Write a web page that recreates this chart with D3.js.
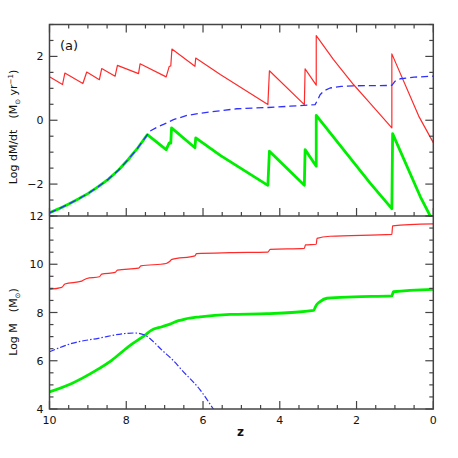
<!DOCTYPE html>
<html>
<head>
<meta charset="utf-8">
<script src="https://cdn.jsdelivr.net/npm/d3@7"></script>
<style>
  body { margin: 0; background: #fff; }
  text { font-family: "DejaVu Sans", sans-serif; fill: #111; }
</style>
</head>
<body>
<svg id="chart" width="458" height="458"></svg>
<script>
// top panel: log dM/dt, [z, value]
const redTop = [[10,1.36],[9.66,1.12],[9.6,1.48],[9.13,1.15],[9.03,1.51],[8.70,1.27],[8.64,1.62],
  [8.29,1.38],[8.23,1.72],[7.68,1.46],[7.64,1.77],[6.96,1.36],[6.88,1.69],[6.84,1.70],[6.81,2.23],
  [6.21,1.69],[6.19,1.95],[5.55,1.43],[4.31,0.49],[4.27,1.55],[3.36,0.49],[3.34,1.61],[3.05,1.10],
  [3.05,2.65],[2.60,1.90],[2.08,1.12],[1.69,0.59],[1.08,-0.24],[1.08,2.08],[0.38,0.13],[0,-0.70]];
const greenTop = [[10,-2.90],[9.75,-2.77],[9.51,-2.63],[9.25,-2.47],[8.99,-2.29],[8.73,-2.08],
  [8.47,-1.85],[8.2,-1.56],[7.95,-1.23],[7.72,-0.90],[7.51,-0.55],
  [7.45,-0.45],[6.96,-0.92],[6.88,-0.71],[6.84,-0.72],[6.82,-0.24],[6.21,-0.86],[6.19,-0.55],
  [5.55,-1.10],[4.31,-2.04],[4.27,-0.97],[3.36,-2.04],[3.34,-0.92],[3.05,-1.44],[3.05,0.15],
  [1.64,-1.98],[1.08,-2.77],[1.06,-0.42],[0.34,-2.39],[0.08,-3.0]];
const blueTop = [[10,-2.90],[9.75,-2.77],[9.51,-2.63],[9.25,-2.47],[8.99,-2.29],[8.73,-2.08],
  [8.47,-1.85],[8.2,-1.56],[7.95,-1.23],[7.72,-0.90],[7.51,-0.55],
  [7.38,-0.34],[7.2,-0.22],[7.03,-0.13],[6.77,0.02],[6.42,0.15],[5.90,0.25],[5.12,0.36],[4.30,0.40],
  [3.73,0.44],[3.08,0.49],[3.02,0.62],[2.95,0.80],[2.85,0.92],[2.69,1.01],[2.40,1.06],[2.08,1.08],
  [1.08,1.09],[1.00,1.22],[0.86,1.30],[0.5,1.35],[0,1.38]];

// bottom panel: log M, [z, value]
const redBot = [[10,8.96],[9.68,9.04],[9.60,9.18],[9.16,9.30],[9.03,9.41],[8.70,9.48],[8.64,9.59],
  [8.29,9.66],[8.23,9.76],[7.68,9.84],[7.62,9.93],[6.96,10.03],[6.88,10.10],[6.81,10.20],
  [6.21,10.35],[6.17,10.44],[5.29,10.48],[4.31,10.50],[4.25,10.62],[3.36,10.66],[3.33,10.80],
  [3.05,10.83],[3.03,11.07],[2.69,11.16],[1.08,11.24],[1.06,11.59],[0,11.67]];
const greenBot = [[10,4.71],[9.42,5.06],[8.81,5.58],[8.38,6.02],[7.95,6.58],[7.51,7.06],[7.34,7.27],
  [7.07,7.41],[6.86,7.52],[6.64,7.66],[6.47,7.73],[6.08,7.82],[5.29,7.92],[4.34,7.95],[3.12,8.09],
  [3.05,8.30],[2.95,8.45],[2.77,8.59],[2.08,8.65],[1.08,8.69],[1.04,8.86],[0,8.96]];
const blueBot = [[10,6.37],[9.42,6.72],[8.73,6.93],[8.03,7.13],[7.77,7.15],[7.51,7.06],[7.3,6.80],
  [7.07,6.44],[6.8,6.05],[6.55,5.61],[6.08,4.80],[5.73,4.00],[5.6,3.7]];

const topTicks = [-2, 0, 2];
const botTicks = [4, 6, 8, 10, 12];
const zTicks = [10, 8, 6, 4, 2, 0];

const L = 49.5, R = 433.3, T = 24.5, M = 216, B = 409;
const svg = d3.select("#chart");

const x = d3.scaleLinear().domain([10, 0]).range([L, R]);
const yTop = d3.scaleLinear().domain([-3, 3]).range([M, T]);
const yBot = d3.scaleLinear().domain([4, 12]).range([B, M]);

const defs = svg.append("defs");
defs.append("clipPath").attr("id", "clipTop").append("rect")
  .attr("x", L).attr("y", T).attr("width", R - L).attr("height", M - T);
defs.append("clipPath").attr("id", "clipBot").append("rect")
  .attr("x", L).attr("y", M).attr("width", R - L).attr("height", B - M);

function drawLine(data, y, clip, color, width, dash, curve) {
  const line = d3.line().x(d => x(d[0])).y(d => y(d[1])).curve(curve || d3.curveLinear);
  svg.append("path")
    .datum(data)
    .attr("clip-path", `url(#${clip})`)
    .attr("fill", "none")
    .attr("stroke", color)
    .attr("stroke-width", width)
    .attr("stroke-dasharray", dash)
    .attr("stroke-linejoin", "round")
    .attr("d", line);
}

drawLine(greenTop, yTop, "clipTop", "#00ee00", 2.8, null);
drawLine(redTop, yTop, "clipTop", "#ff2a2a", 1.2, null);
drawLine(blueTop, yTop, "clipTop", "#3030ff", 1.3, "7,4");

drawLine(redBot, yBot, "clipBot", "#ff2a2a", 1.2, null, d3.curveMonotoneX);
drawLine(greenBot, yBot, "clipBot", "#00ee00", 2.8, null, d3.curveMonotoneX);
drawLine(blueBot, yBot, "clipBot", "#3030ff", 1.2, "6,2,1.5,2", d3.curveMonotoneX);

// frames and inward ticks
const axisColor = "#444";
svg.append("rect").attr("x", L).attr("y", T).attr("width", R - L).attr("height", B - T)
  .attr("fill", "none").attr("stroke", axisColor).attr("stroke-width", 1.5);
svg.append("line").attr("x1", L).attr("x2", R).attr("y1", M).attr("y2", M)
  .attr("stroke", axisColor).attr("stroke-width", 1.5);

const ticks = svg.append("g").attr("stroke", axisColor).attr("stroke-width", 1.2);
const major = 8, minor = 4;

d3.range(0, 10.01, 0.5).forEach(z => {
  const len = z % 2 === 0 ? major : minor;
  const px = x(z);
  [[T, len], [M, -len], [B, -len]].forEach(([y0, l]) => {
    ticks.append("line").attr("x1", px).attr("x2", px).attr("y1", y0).attr("y2", y0 + l);
  });
});
d3.range(-3, 3.01, 0.5).forEach(v => {
  const len = v % 2 === 0 ? major : minor;
  const py = yTop(v);
  ticks.append("line").attr("x1", L).attr("x2", L + len).attr("y1", py).attr("y2", py);
  ticks.append("line").attr("x1", R).attr("x2", R - len).attr("y1", py).attr("y2", py);
});
d3.range(4, 12.01, 0.5).forEach(v => {
  const len = v % 2 === 0 ? major : minor;
  const py = yBot(v);
  ticks.append("line").attr("x1", L).attr("x2", L + len).attr("y1", py).attr("y2", py);
  ticks.append("line").attr("x1", R).attr("x2", R - len).attr("y1", py).attr("y2", py);
});

// tick labels
const fmt = v => v < 0 ? "\u2212" + Math.abs(v) : String(v);
topTicks.forEach(v => {
  svg.append("text").attr("x", L - 6).attr("y", yTop(v) + 4)
    .attr("text-anchor", "end").attr("font-size", 11).text(fmt(v));
});
botTicks.forEach(v => {
  svg.append("text").attr("x", L - 6).attr("y", yBot(v) + 4)
    .attr("text-anchor", "end").attr("font-size", 11).text(fmt(v));
});
zTicks.forEach(v => {
  svg.append("text").attr("x", x(v)).attr("y", B + 15)
    .attr("text-anchor", "middle").attr("font-size", 11).text(fmt(v));
});

// axis titles
svg.append("text").attr("x", x(5) - 1).attr("y", 436)
  .attr("text-anchor", "middle").attr("font-size", 12).attr("font-weight", "bold").text("z");

const yl1 = svg.append("text")
  .attr("transform", "translate(17,127) rotate(-90)")
  .attr("text-anchor", "middle").attr("font-size", 11);
yl1.append("tspan").text("Log dM/dt\u2003(M");
yl1.append("tspan").attr("font-size", 7).attr("dy", 3).text("\u2299");
yl1.append("tspan").attr("dy", -3).text(" yr");
yl1.append("tspan").attr("font-size", 7).attr("dy", -4).text("\u22121");
yl1.append("tspan").attr("dy", 4).text(")");

const yl2 = svg.append("text")
  .attr("transform", "translate(17,322) rotate(-90)")
  .attr("text-anchor", "middle").attr("font-size", 11);
yl2.append("tspan").text("Log M\u2003(M");
yl2.append("tspan").attr("font-size", 7).attr("dy", 3).text("\u2299");
yl2.append("tspan").attr("dy", -3).text(")");

svg.append("text").attr("x", 60).attr("y", 50).attr("font-size", 13).text("(a)");
</script>
</body>
</html>
